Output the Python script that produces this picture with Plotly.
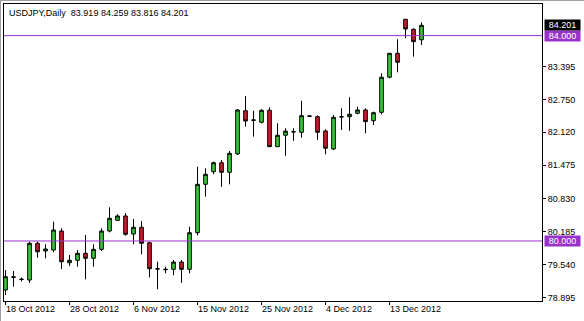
import plotly.graph_objects as go

# ---------------- data ----------------
dates = [
    "2012-10-18", "2012-10-19", "2012-10-21", "2012-10-22", "2012-10-23", "2012-10-24",
    "2012-10-25", "2012-10-26", "2012-10-28", "2012-10-29", "2012-10-30", "2012-10-31",
    "2012-11-01", "2012-11-02", "2012-11-04", "2012-11-05", "2012-11-06", "2012-11-07",
    "2012-11-08", "2012-11-09", "2012-11-11", "2012-11-12", "2012-11-13", "2012-11-14",
    "2012-11-15", "2012-11-16", "2012-11-18", "2012-11-19", "2012-11-20", "2012-11-21",
    "2012-11-22", "2012-11-23", "2012-11-25", "2012-11-26", "2012-11-27", "2012-11-28",
    "2012-11-29", "2012-11-30", "2012-12-02", "2012-12-03", "2012-12-04", "2012-12-05",
    "2012-12-06", "2012-12-07", "2012-12-09", "2012-12-10", "2012-12-11", "2012-12-12",
    "2012-12-13", "2012-12-14", "2012-12-16", "2012-12-17", "2012-12-18",
]
opens = [
    79.045, 79.290, 79.250, 79.240, 79.955, 79.805, 79.824, 80.194, 79.577, 79.624,
    79.760, 79.663, 79.838, 80.194, 80.403, 80.487, 80.136, 80.267, 79.966, 79.460,
    79.440, 79.448, 79.590, 79.448, 80.161, 81.104, 81.350, 81.525, 81.338, 81.695,
    82.538, 82.350, 82.312, 82.546, 81.837, 82.060, 82.130, 82.117, 82.435, 82.421,
    82.143, 81.792, 82.415, 82.420, 82.487, 82.552, 82.343, 82.507, 83.190, 83.656,
    84.319, 84.124, 83.919,
]
highs = [
    79.435, 79.415, 79.290, 79.986, 79.986, 79.935, 80.376, 80.247, 79.727, 79.824,
    80.117, 79.935, 80.247, 80.656, 80.520, 80.539, 80.428, 80.390, 79.986, 79.596,
    79.500, 79.630, 79.630, 80.278, 81.447, 81.416, 81.545, 81.578, 81.753, 82.571,
    82.824, 82.538, 82.565, 82.604, 82.293, 82.195, 82.195, 82.733, 82.445, 82.448,
    82.176, 82.455, 82.585, 82.799, 82.616, 82.585, 82.520, 83.267, 83.660, 83.929,
    84.319, 84.140, 84.259,
]
lows = [
    78.948, 79.110, 79.210, 79.187, 79.674, 79.663, 79.780, 79.454, 79.510, 79.500,
    79.253, 79.500, 79.805, 80.169, 80.390, 80.103, 79.935, 79.741, 79.292, 79.059,
    79.370, 79.331, 79.187, 79.370, 80.111, 80.863, 81.300, 81.057, 81.104, 81.675,
    82.226, 82.032, 82.290, 81.830, 81.837, 81.660, 81.950, 82.012, 82.425, 81.967,
    81.689, 81.770, 82.162, 82.148, 82.468, 82.098, 82.259, 82.468, 83.169, 83.286,
    83.949, 83.590, 83.816,
]
closes = [
    79.304, 79.300, 79.255, 79.955, 79.790, 79.844, 80.214, 79.596, 79.624, 79.760,
    79.663, 79.838, 80.194, 80.442, 80.487, 80.130, 80.267, 79.955, 79.460, 79.455,
    79.448, 79.590, 79.448, 80.161, 81.104, 81.299, 81.525, 81.338, 81.708, 82.552,
    82.337, 82.357, 82.546, 81.837, 82.059, 82.140, 82.125, 82.441, 82.430, 82.117,
    81.806, 82.409, 82.420, 82.468, 82.552, 82.324, 82.499, 83.189, 83.656, 83.481,
    84.130, 83.882, 84.201,
]

ytick_vals = [83.395, 82.750, 82.120, 81.475, 80.830, 80.185, 79.540, 78.895]
ytick_text = ["83.395", "82.750", "82.120", "81.475", "80.830", "80.185", "79.540", "78.895"]
xtick_dates = ["2012-10-18", "2012-10-28", "2012-11-06", "2012-11-15",
               "2012-11-25", "2012-12-04", "2012-12-13"]
xtick_text = ["18 Oct 2012", "28 Oct 2012", "6 Nov 2012", "15 Nov 2012",
              "25 Nov 2012", "4 Dec 2012", "13 Dec 2012"]
levels = [84.0, 80.0]
symbol = "USDJPY,Daily"

# ---------------- styling ----------------
FONT = "Liberation Sans, Arial, sans-serif"
FS = 9
PURPLE = "#9932CC"
W, H = 584, 321
ML, MR, MT, MB = 4, 42, 4, 20
PW, PH = W - ML - MR, H - MT - MB

fig = go.Figure(
    go.Candlestick(
        x=dates, open=opens, high=highs, low=lows, close=closes,
        increasing=dict(fillcolor="#33CC33", line=dict(color="black", width=1)),
        decreasing=dict(fillcolor="#CC1A28", line=dict(color="black", width=1)),
        whiskerwidth=0,
        hoverinfo="x+y",
    )
)

fig.update_layout(
    width=W, height=H,
    margin=dict(l=ML, r=MR, t=MT, b=MB, pad=0),
    paper_bgcolor="white", plot_bgcolor="white",
    showlegend=False,
    boxgap=0.35,
    font=dict(family=FONT, size=FS, color="black"),
)

fig.update_xaxes(
    type="category",
    range=[-0.19, 67.06],
    rangeslider_visible=False,
    showgrid=False, zeroline=False,
    showline=True, linecolor="black", linewidth=1, mirror=True,
    ticks="outside", ticklen=3, tickcolor="black", tickwidth=1,
    tickvals=xtick_dates, showticklabels=False,
)
fig.update_yaxes(
    side="right",
    range=[78.831, 84.616],
    showgrid=False, zeroline=False,
    showline=True, linecolor="black", linewidth=1, mirror=True,
    ticks="outside", ticklen=3, tickcolor="black", tickwidth=1,
    tickvals=ytick_vals, ticktext=ytick_text,
    tickfont=dict(family=FONT, size=FS, color="black"),
)

annotations = []
# x labels, left-aligned at ticks (MetaTrader style)
for d, t in zip(xtick_dates, xtick_text):
    annotations.append(dict(
        x=d, xref="x", y=0, yref="paper", yanchor="top", xanchor="left",
        yshift=-2, xshift=-1, text=t, showarrow=False,
        font=dict(family=FONT, size=FS, color="black"), borderpad=0,
    ))

# title line
title = f"{symbol}\u00a0\u00a0{opens[-1]:.3f} {highs[-1]:.3f} {lows[-1]:.3f} {closes[-1]:.3f}"
annotations.append(dict(
    x=0, xref="paper", y=1, yref="paper", xanchor="left", yanchor="top",
    xshift=4, yshift=-3, text=title, showarrow=False,
    font=dict(family=FONT, size=FS, color="black"), borderpad=0,
))

# price level labels
shapes = []
for lv in levels:
    shapes.append(dict(type="line", xref="paper", x0=0, x1=1, yref="y", y0=lv, y1=lv,
                       line=dict(color=PURPLE, width=1), layer="above"))
    annotations.append(dict(
        x=1, xref="paper", y=lv, yref="y", xanchor="left", yanchor="middle",
        xshift=2, text=f"{lv:.3f}", showarrow=False, bgcolor=PURPLE,
        font=dict(family=FONT, size=FS, color="white"), borderpad=1,
        width=33, height=8,
    ))

# last price label
annotations.append(dict(
    x=1, xref="paper", y=closes[-1], yref="y", xanchor="left", yanchor="middle",
    xshift=2, text=f"{closes[-1]:.3f}", showarrow=False, bgcolor="black",
    font=dict(family=FONT, size=FS, color="white"), borderpad=1,
    width=33, height=8,
))

# outer window frame (grey) on left and top
shapes.append(dict(type="line", xref="paper", yref="paper",
                   x0=-3.5 / PW, x1=-3.5 / PW, y0=-MB / PH, y1=1 + MT / PH,
                   line=dict(color="#A0A0A0", width=1)))
shapes.append(dict(type="line", xref="paper", yref="paper",
                   x0=-ML / PW, x1=1 + MR / PW, y0=1 + 3.5 / PH, y1=1 + 3.5 / PH,
                   line=dict(color="#A0A0A0", width=1)))

fig.update_layout(annotations=annotations, shapes=shapes)

fig.write_html("out.html")
